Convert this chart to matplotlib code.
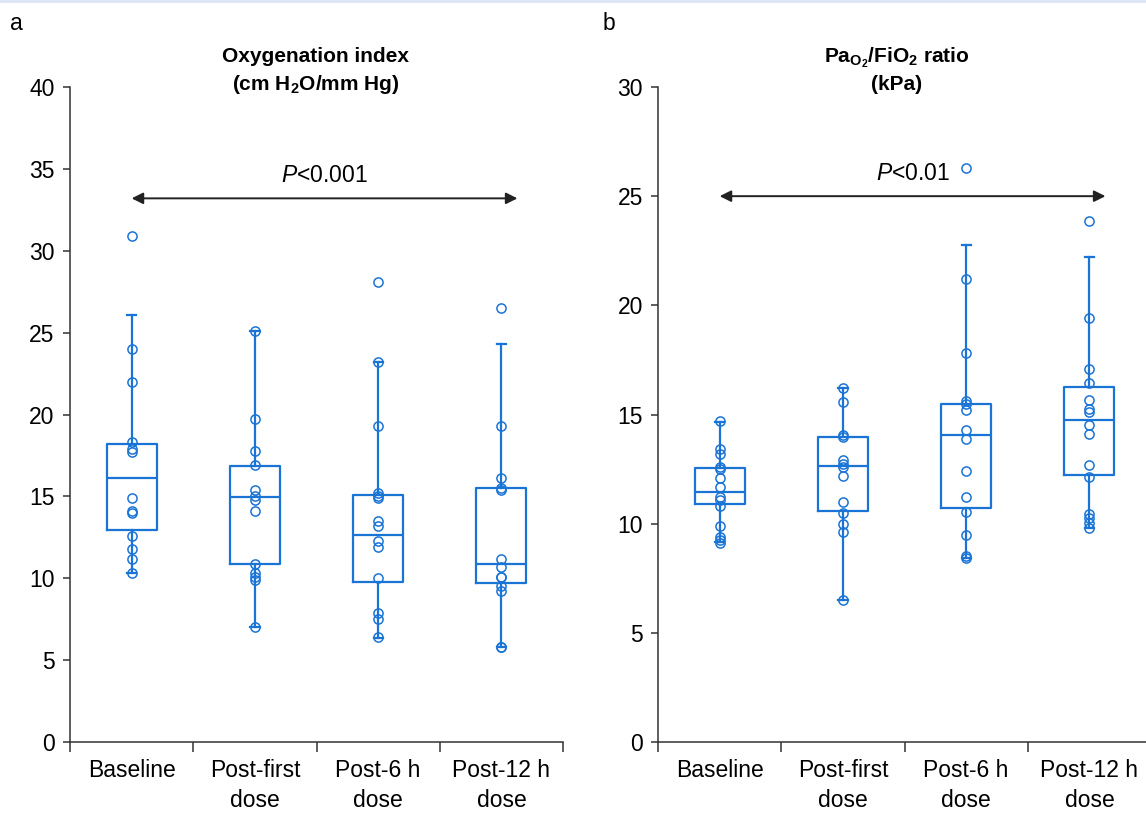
import matplotlib
matplotlib.use("Agg")
import matplotlib.pyplot as plt
from matplotlib.lines import Line2D

plt.rcParams['font.family'] = ['Liberation Sans', 'DejaVu Sans']
plt.rcParams['mathtext.fontset'] = 'custom'
plt.rcParams['mathtext.rm'] = 'Liberation Sans'
plt.rcParams['mathtext.it'] = 'Liberation Sans:italic'
plt.rcParams['mathtext.bf'] = 'Liberation Sans:bold'

groups = ["Baseline", "Post-first\ndose", "Post-6 h\ndose", "Post-12 h\ndose"]

# panel a: oxygenation index, individual patients
oi_points = [
    [30.9, 24.0, 22.0, 18.3, 17.9, 17.7, 14.9, 14.1, 14.0, 12.6, 11.8, 11.2, 10.3],
    [25.1, 19.7, 17.8, 16.9, 15.4, 15.0, 14.8, 14.1, 10.9, 10.3, 10.1, 9.9, 7.0],
    [28.1, 23.2, 19.3, 15.2, 15.0, 14.9, 13.5, 13.2, 12.3, 11.9, 10.0, 7.9, 7.5, 6.4],
    [26.5, 19.3, 16.1, 15.5, 15.4, 11.2, 10.7, 10.1, 10.1, 9.5, 9.2, 5.8, 5.8],
]
oi_whislo = [10.3, 7.0, 6.35, 5.8]
oi_q1 = [12.95, 10.85, 9.8, 9.7]
oi_med = [16.15, 14.95, 12.65, 10.85]
oi_q3 = [18.2, 16.85, 15.1, 15.5]
oi_whishi = [26.05, 25.1, 23.2, 24.3]

# panel b: PaO2/FiO2 ratio
pf_points = [
    [14.7, 13.4, 13.2, 12.6, 12.5, 12.1, 11.7, 11.2, 11.1, 10.8, 9.9, 9.4, 9.25, 9.1],
    [16.2, 15.55, 14.05, 13.95, 12.9, 12.75, 12.6, 12.2, 11.0, 10.5, 10.0, 9.6, 6.5],
    [26.3, 21.2, 17.8, 15.6, 15.5, 15.2, 14.3, 13.9, 12.4, 11.2, 10.55, 9.5, 8.5, 8.45],
    [23.85, 19.4, 17.1, 16.45, 15.65, 15.25, 15.1, 14.5, 14.1, 12.7, 12.15, 10.45, 10.25, 10.05, 9.8],
]
pf_whislo = [9.15, 6.5, 8.45, 9.8]
pf_q1 = [10.9, 10.6, 10.7, 12.25]
pf_med = [11.45, 12.65, 14.05, 14.75]
pf_q3 = [12.55, 13.95, 15.5, 16.25]
pf_whishi = [14.65, 16.2, 22.75, 22.2]

blue = '#1a74d6'
dark = '#333333'
fs = 16.5
fs_title = 15

fig = plt.figure(figsize=(11.46, 8.31), dpi=100)
ax1 = fig.add_axes([0.0611, 0.1071, 0.4302, 0.7882])
ax2 = fig.add_axes([0.5742, 0.1071, 0.4302, 0.7882])


def panel(ax, pts, wlo, q1, med, q3, whi, ymax, arrow_y, text_y, ptext):
    stats = []
    for i in range(len(groups)):
        stats.append(dict(whislo=wlo[i], q1=q1[i], med=med[i], q3=q3[i],
                          whishi=whi[i], fliers=[]))
    ax.bxp(stats, positions=range(len(groups)), widths=0.405, capwidths=0.075,
           showfliers=False,
           boxprops=dict(color=blue, lw=1.6),
           medianprops=dict(color=blue, lw=1.6),
           whiskerprops=dict(color=blue, lw=1.6),
           capprops=dict(color=blue, lw=1.6))
    for i, p in enumerate(pts):
        ax.plot([i] * len(p), p, 'o', ms=6.6, mfc='none', mec=blue, mew=1.1,
                zorder=4)
    ax.annotate('', xy=(3.13, arrow_y), xytext=(0, arrow_y),
                arrowprops=dict(arrowstyle='<|-|>', color='#222222', lw=1.4,
                                mutation_scale=17, shrinkA=0, shrinkB=0))
    ax.text(1.565, text_y, ptext, ha='center', va='center', fontsize=fs)
    ax.set_xlim(-0.5, 3.5)
    ax.set_ylim(0, ymax)
    ax.set_yticks(range(0, ymax + 1, 5))
    ax.set_xticks([-0.5, 0.5, 1.5, 2.5, 3.5])
    ax.set_xticklabels([])
    ax.set_xticks(range(len(groups)), minor=True)
    ax.set_xticklabels(groups, minor=True, fontsize=fs, linespacing=1.41)
    ax.tick_params(axis='x', which='minor', length=0, pad=12)
    ax.tick_params(axis='x', which='major', length=7, width=1.1, color=dark)
    ax.tick_params(axis='y', length=5, width=1.1, color=dark, labelsize=fs, pad=6)
    for s in ['top', 'right']:
        ax.spines[s].set_visible(False)
    for s in ['left', 'bottom']:
        ax.spines[s].set_color(dark)
        ax.spines[s].set_linewidth(1.1)


panel(ax1, oi_points, oi_whislo, oi_q1, oi_med, oi_q3, oi_whishi, 40, 33.2, 34.6,
      r'$\mathit{P}$<0.001')
panel(ax2, pf_points, pf_whislo, pf_q1, pf_med, pf_q3, pf_whishi, 30, 25.0, 26.05,
      r'$\mathit{P}$<0.01')

# titles and panel letters
fig.text(0.2757, 1 - 62 / 831, 'Oxygenation index', ha='center', va='baseline',
         fontsize=fs_title, fontweight='bold')
fig.text(0.2757, 1 - 90 / 831, r'(cm H$_\mathbf{2}$O/mm Hg)', ha='center',
         va='baseline', fontsize=fs_title, fontweight='bold')
fig.text(0.7827, 1 - 62 / 831, r'Pa$_{\mathbf{O}_\mathbf{2}}$/FiO$_\mathbf{2}$ ratio',
         ha='center', va='baseline', fontsize=fs_title, fontweight='bold')
fig.text(0.7827, 1 - 90 / 831, '(kPa)', ha='center', va='baseline',
         fontsize=fs_title, fontweight='bold')
fig.text(10 / 1146, 1 - 30 / 831, 'a', ha='left', va='baseline', fontsize=fs)
fig.text(603 / 1146, 1 - 30 / 831, 'b', ha='left', va='baseline', fontsize=fs)

fig.add_artist(Line2D([0, 1], [0.9985, 0.9985], transform=fig.transFigure,
                      color='#dce6f5', lw=2))

fig.savefig('out.png', dpi=100)
